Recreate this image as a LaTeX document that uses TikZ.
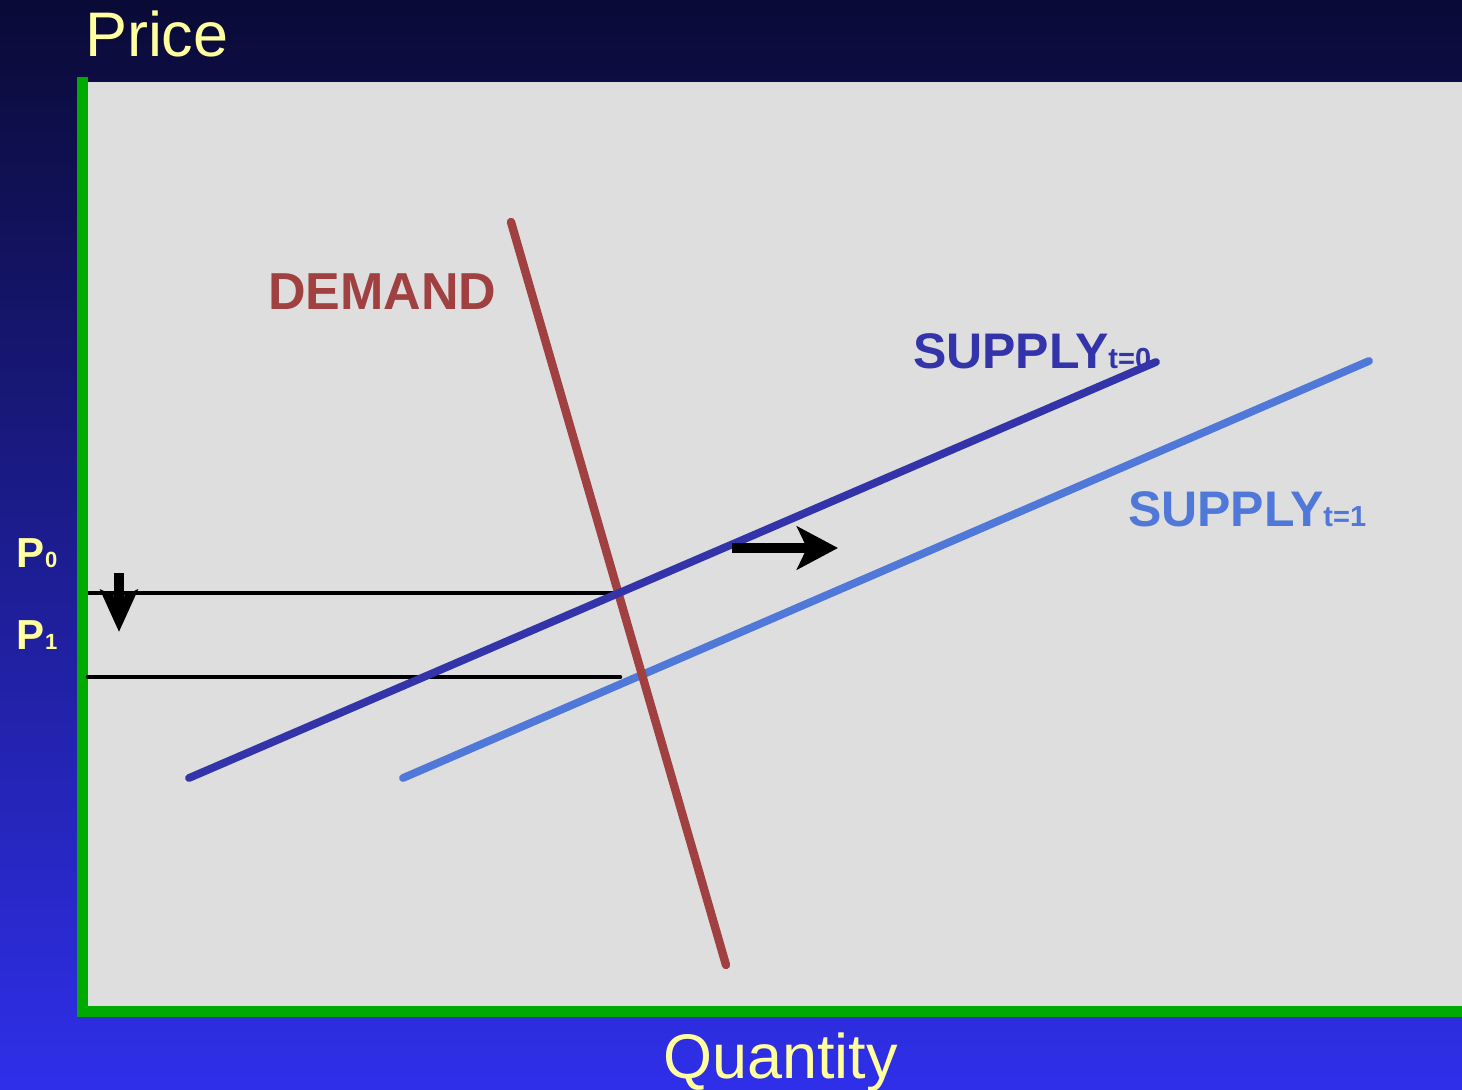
\documentclass[tikz,border=0pt]{standalone}
\usepackage{fontspec}
\setmainfont{Liberation Sans}
\usepackage{xcolor}
\usetikzlibrary{arrows.meta,positioning}
\definecolor{bgtop}{RGB}{10,10,54}
\definecolor{bgbottom}{RGB}{47,47,234}
\definecolor{plotgray}{RGB}{222,222,222}
\definecolor{axisgreen}{RGB}{0,170,0}
\definecolor{labelyellow}{RGB}{255,255,160}
\definecolor{demandred}{RGB}{160,64,64}
\definecolor{supplydark}{RGB}{51,51,170}
\definecolor{supplylight}{RGB}{80,120,216}

\begin{document}
\begin{tikzpicture}[x=0.5pt, y=-0.5pt, >=Stealth, every node/.style={inner sep=0pt, outer sep=0pt}]
\tikzstyle{axislabel}=[anchor=base west, text=labelyellow, font=\fontsize{31.5}{36}\selectfont]
\tikzstyle{pricelabel}=[anchor=base west, text=labelyellow, font=\fontsize{21}{24}\selectfont\bfseries]
\tikzstyle{curvelabel}=[anchor=base west, font=\fontsize{25}{28}\selectfont\bfseries]
\tikzstyle{curve}=[line width=3.9pt, line cap=round]
\tikzstyle{priceline}=[line width=2.3pt, black]
\tikzstyle{shiftarrow}=[line width=5pt, black]
% background and plot area
\useasboundingbox (0,0) rectangle (1462,1090);
\shade[top color=bgtop, bottom color=bgbottom] (0,0) rectangle (1462,1090);
\fill[plotgray] (88,82) rectangle (1462,1006);
\fill[axisgreen] (77,77) rectangle (88,1017);
\fill[axisgreen] (77,1006) rectangle (1462,1017);
% axis labels
\node[axislabel] (price) at (85,57) {Price};
\node[axislabel] (quantity) at (663,1078) {Quantity};
\node[pricelabel] (p0) at (17,568) {P{\fontsize{11}{12}\selectfont 0}};
\node[pricelabel] (p1) at (17,650) {P{\fontsize{11}{12}\selectfont 1}};
% curve labels
\node[curvelabel, text=demandred, font=\fontsize{26}{28}\selectfont\bfseries] (demand) at (268,310) {DEMAND};
\node[curvelabel, text=supplydark] (supply0) at (913,369) {SUPPLY{\fontsize{14.5}{14}\selectfont t=0}};
\node[curvelabel, text=supplylight] (supply1) at (1128,527) {SUPPLY{\fontsize{14.5}{14}\selectfont t=1}};
% price levels
\coordinate (p0a) at (88,593);
\coordinate (p0b) at (615,593);
\coordinate (p1a) at (88,677);
\coordinate (p1b) at (620,677);
\draw[priceline] (p0a) -- (p0b);
\draw[priceline, line cap=round] (p1a) -- (p1b);
% curves
\coordinate (s0a) at (189,778);
\coordinate (s0b) at (1156,362);
\coordinate (s1a) at (403,778);
\coordinate (s1b) at (1369,361);
\coordinate (da) at (511,222);
\coordinate (db) at (726,965);
\draw[curve, supplylight] (s1a) -- (s1b);
\draw[curve, demandred, line width=4.2pt] (da) -- (db);
\draw[curve, supplydark] (s0a) -- (s0b);
% shift arrows
\coordinate (down0) at (119,573);
\coordinate (down1) at (119,632);
\coordinate (right0) at (732,548);
\coordinate (right1) at (838,548);
\draw[shiftarrow, -{Stealth[length=21pt, width=18.5pt, inset=4pt]}] (down0) -- (down1);
\draw[shiftarrow, -{Stealth[length=20.5pt, width=21.5pt, inset=5pt]}] (right0) -- (right1);
\end{tikzpicture}
\end{document}
